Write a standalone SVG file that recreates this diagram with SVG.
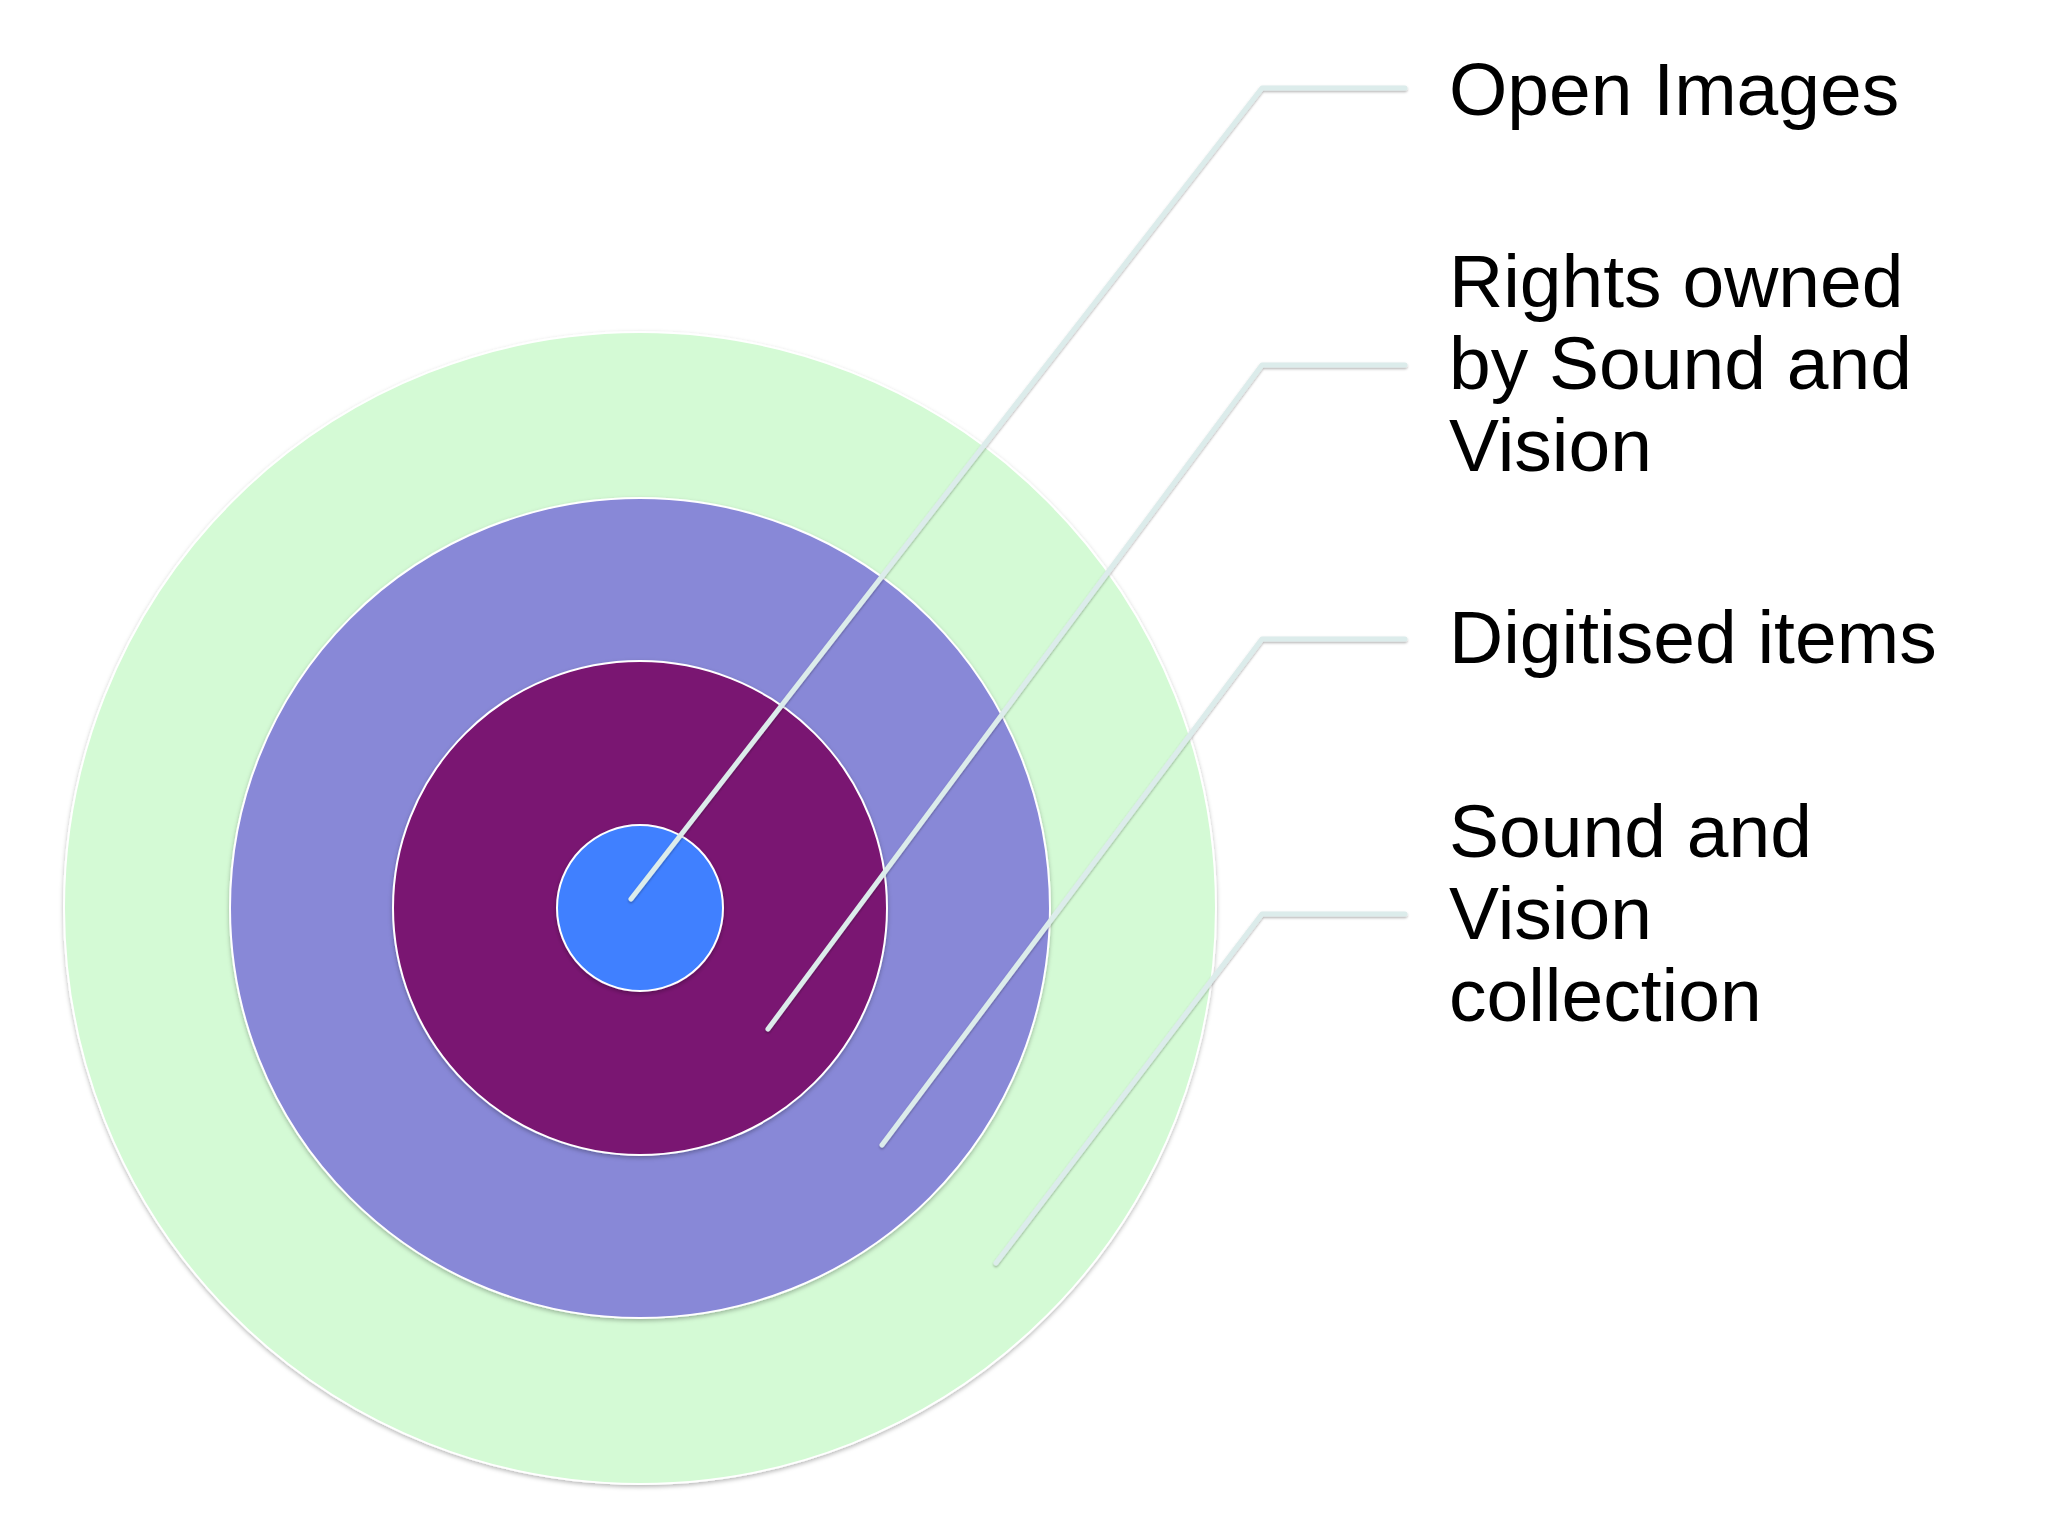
<svg xmlns="http://www.w3.org/2000/svg" width="2048" height="1536" viewBox="0 0 2048 1536">
  <defs>
    <filter id="shadow" x="-10%" y="-10%" width="120%" height="120%">
      <feDropShadow dx="0" dy="2" stdDeviation="2" flood-color="#000" flood-opacity="0.28"/>
    </filter>
    <filter id="lshadow" x="-10%" y="-10%" width="120%" height="120%">
      <feDropShadow dx="0" dy="1.5" stdDeviation="1.2" flood-color="#000" flood-opacity="0.3"/>
    </filter>
  </defs>
  <style>
    .ring { stroke: #ffffff; stroke-width: 2; filter: url(#shadow); }
    .leader { fill: none; stroke: #DCECEB; stroke-width: 5; stroke-linecap: round; stroke-linejoin: round; filter: url(#lshadow); }
    .label { font-family: "Liberation Sans", Arial, sans-serif; font-size: 75px; fill: #000000; }
  </style>
  <rect width="2048" height="1536" fill="#ffffff"/>

  <g id="node-collection">
    <circle class="ring" cx="640" cy="908" r="576" fill="#D4FAD5"/>
    <text class="label" x="1449" y="857">Sound and</text>
    <text class="label" x="1449" y="939">Vision</text>
    <text class="label" x="1449" y="1021">collection</text>
  </g>
  <g id="node-digitised">
    <circle class="ring" cx="640" cy="908" r="410" fill="#8888D7"/>
    <text class="label" x="1449" y="663">Digitised items</text>
  </g>
  <g id="node-rights">
    <circle class="ring" cx="640" cy="908" r="247" fill="#7A1772"/>
    <text class="label" x="1449" y="307">Rights owned</text>
    <text class="label" x="1449" y="389">by Sound and</text>
    <text class="label" x="1449" y="471">Vision</text>
  </g>
  <g id="node-open">
    <circle class="ring" cx="640" cy="908" r="83" fill="#4080FF"/>
    <text class="label" x="1449" y="115">Open Images</text>
  </g>

  <g id="connectors">
    <polyline class="leader" points="1405,88 1262,88 631,899"/>
    <polyline class="leader" points="1405,365 1262,365 768,1029"/>
    <polyline class="leader" points="1405,639 1262,639 882,1145"/>
    <polyline class="leader" points="1405,914 1262,914 996,1263"/>
  </g>
</svg>
